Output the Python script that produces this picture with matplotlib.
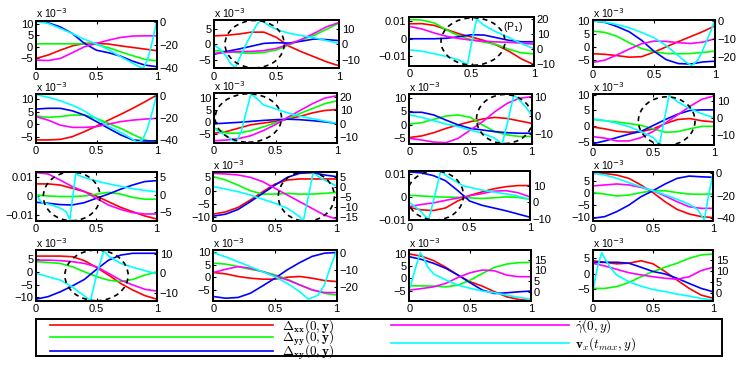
import matplotlib
matplotlib.use("Agg")
import matplotlib.pyplot as plt
from matplotlib.patches import Ellipse

plt.rcParams['font.family'] = ['Liberation Sans', 'DejaVu Sans']
plt.rcParams['mathtext.fontset'] = 'cm'

W, H = 747, 367

# common abscissa (y / h)
X = [0.0, 0.1, 0.2, 0.3, 0.4, 0.5, 0.6, 0.7, 0.8, 0.9, 1.0]
XTICKS = [0, 0.5, 1]
XTICKLABELS = ['0', '0.5', '1']

# ---- values (left axis in units of 1e-3; right axis as read) ----
red_11 = [-5.1, -3.6, -1.5, 0.4, 1.5, 1.5, 1.2, 0.4, -0.3, -1.0, -1.7]
grn_11 = [1.3, 1.3, 1.3, 1.3, 1.3, 1.0, -0.4, -2.2, -3.9, -5.5, -6.1]
blu_11 = [11.4, 10.5, 8.7, 5.8, 1.5, -1.5, -2.6, -4.1, -6.3, -8.0, -8.7]
mag_11 = [-5.8, -6.0, -5.1, -2.6, 0.0, 1.5, 2.9, 4.1, 4.7, 4.8, 4.8]
cyx_11 = [0, 0.1, 0.2, 0.3, 0.4, 0.5, 0.6, 0.7, 0.8, 0.85, 0.885, 0.92, 0.95, 0.975, 1.0]
cyn_11 = [0.6, -1.2, -5.5, -10.0, -15.0, -19.0, -24.0, -30.0, -35.7, -38.5, -40.3, -33.0, -22.0, -10.0, 1.0]

red_12 = [2.7, 2.9, 3.3, 3.9, 3.9, 2.2, -0.6, -2.4, -4.0, -5.6, -6.9]
grn_12 = [-2.0, -2.3, -2.7, -2.9, -2.6, -1.8, -0.2, 1.4, 2.9, 4.8, 6.8]
blu_12 = [-3.2, -2.3, -1.5, -0.6, 0.3, 0.5, 0.4, 1.0, 1.7, 1.5, 1.2]
mag_12 = [-2.9, -2.6, -2.3, -2.3, -2.0, -1.3, 0.0, 1.6, 3.5, 5.6, 7.0]
cyx_12 = [0, 0.05, 0.1, 0.13, 0.17, 0.21, 0.26, 0.31, 0.35, 0.38, 0.45, 0.5, 0.6, 0.7, 0.8, 0.9, 1.0]
cyn_12 = [-0.4, -3.2, -7.8, -12.0, -14.8, -7.8, 0.6, 8.0, 13.3, 15.2, 11.2, 9.5, 7.0, 5.5, 4.2, 2.3, 0.6]

red_13 = [8.5, 8.6, 7.6, 5.2, 2.8, 1.0, -1.0, -3.6, -7.1, -11.5, -14.7]
grn_13 = [10.9, 10.6, 9.0, 5.0, 1.6, -0.6, -1.9, -3.3, -6.0, -8.0, -8.6]
blu_13 = [0.0, 0.0, 0.0, 0.3, 1.2, 2.3, 2.1, 0.6, -0.9, -1.7, -1.7]
mag_13 = [7.0, 5.6, 3.3, 1.4, 0.1, -0.8, -1.4, -1.8, -2.0, -2.5, -3.1]
cyx_13 = [0, 0.1, 0.2, 0.3, 0.4, 0.466, 0.5, 0.54, 0.6, 0.7, 0.8, 0.9, 1.0]
cyn_13 = [-0.6, -1.5, -3.2, -5.1, -7.4, -10.5, 4.5, 20.0, 15.8, 11.3, 7.6, 3.6, 0.2]

red_14 = [-2.6, -2.8, -3.3, -3.9, -3.7, -2.0, 0.0, 2.0, 3.9, 5.8, 8.0]
grn_14 = [6.0, 5.5, 4.0, 1.5, -0.6, -1.8, -2.5, -2.6, -2.5, -2.1, -1.6]
blu_14 = [9.9, 9.3, 7.7, 5.7, 2.5, -1.6, -4.8, -6.3, -6.5, -5.7, -5.4]
mag_14 = [-5.9, -5.0, -3.0, -0.8, 1.2, 2.2, 2.1, 1.6, 1.3, 1.8, 3.1]
cyx_14 = [0, 0.1, 0.2, 0.3, 0.4, 0.5, 0.6, 0.7, 0.76, 0.81, 0.86, 0.9, 0.95, 1.0]
cyn_14 = [0.0, -0.7, -2.0, -3.8, -6.3, -9.2, -13.5, -19.0, -22.5, -24.5, -21.5, -16.0, -8.0, 0.5]

red_21 = [-6.2, -6.2, -6.0, -4.9, -2.9, -0.7, 1.7, 4.0, 6.4, 9.0, 11.7]
grn_21 = [3.3, 2.8, 3.1, 3.7, 3.7, 2.4, 0.4, -1.6, -4.0, -6.2, -7.2]
blu_21 = [6.1, 6.4, 6.4, 5.4, 3.7, 1.1, -1.6, -4.2, -6.2, -6.6, -6.6]
mag_21 = [3.1, 1.7, -0.3, -1.2, -1.2, -0.9, 0.1, 1.1, 1.7, 2.1, 2.4]
cyx_21 = [0, 0.1, 0.2, 0.3, 0.4, 0.5, 0.6, 0.7, 0.8, 0.84, 0.88, 0.92, 0.96, 1.0]
cyn_21 = [1.0, -1.5, -4.6, -8.6, -13.8, -20.9, -27.7, -33.2, -39.4, -42.5, -40.0, -30.0, -15.0, 1.5]

red_22 = [-4.6, -3.9, -2.5, -1.1, -0.4, 0.3, 1.3, 2.4, 3.8, 4.8, 5.2]
grn_22 = [-2.4, -4.5, -4.6, -3.5, -2.0, -0.3, 1.4, 3.6, 5.6, 7.6, 8.8]
blu_22 = [-0.7, -0.4, -0.1, 0.3, 0.7, 1.0, 1.2, 1.0, 0.6, 0.1, -0.5]
mag_22 = [-7.7, -7.4, -6.8, -5.6, -3.5, -1.0, 2.0, 4.8, 7.6, 9.9, 10.9]
cyx_22 = [0, 0.05, 0.1, 0.15, 0.18, 0.22, 0.26, 0.3, 0.35, 0.4, 0.5, 0.6, 0.7, 0.8, 0.9, 1.0]
cyn_22 = [-3.5, -6.3, -8.8, -12.0, -13.8, -6.0, 8.0, 22.0, 18.5, 14.0, 11.0, 8.0, 5.6, 3.8, 2.0, 0.3]

red_23 = [-4.8, -4.2, -3.0, -1.4, -0.1, 1.1, 2.1, 2.7, 2.3, 1.4, 0.5]
grn_23 = [0.2, 0.7, 2.0, 3.2, 3.6, 2.7, -0.1, -2.6, -3.8, -4.4, -4.4]
blu_23 = [4.6, 4.6, 3.6, 1.7, -0.1, -1.4, -2.0, -2.6, -3.0, -3.2, -3.2]
mag_23 = [-5.1, -5.7, -6.5, -6.7, -5.1, -2.0, 1.1, 4.8, 7.9, 9.8, 10.4]
cyx_23 = [0, 0.1, 0.2, 0.3, 0.4, 0.5, 0.6, 0.7, 0.76, 0.81, 0.855, 0.9, 0.95, 1.0]
cyn_23 = [0.4, -0.9, -2.7, -4.5, -5.9, -7.7, -9.5, -12.1, -15.2, -2.0, 11.0, 8.4, 4.8, 0.4]

red_24 = [-0.3, -0.9, -1.7, -2.0, -1.8, -0.9, 0.8, 2.1, 2.4, 1.7, 1.3]
grn_24 = [2.1, 1.7, 1.3, 0.8, 0.2, -0.9, -2.0, -1.8, -0.9, -0.1, -0.1]
blu_24 = [-5.7, -4.8, -3.7, -2.6, -1.7, 0.2, 2.1, 3.8, 5.0, 5.2, 5.2]
mag_24 = [-3.4, -3.9, -4.8, -4.8, -3.7, -1.7, 1.0, 3.6, 6.3, 8.6, 9.7]
cyx_24 = [0, 0.1, 0.2, 0.3, 0.4, 0.5, 0.55, 0.59, 0.63, 0.7, 0.8, 0.9, 1.0]
cyn_24 = [-0.4, -1.4, -3.0, -5.0, -8.0, -11.5, -15.4, -1.0, 13.6, 9.6, 5.6, 2.6, 0.2]

red_31 = [6.3, 6.3, 5.7, 4.0, 2.3, 0.0, -3.0, -5.9, -8.2, -10.4, -12.0]
grn_31 = [0.5, 0.0, -0.3, -0.3, 0.0, 0.9, 1.9, 1.0, -0.7, -1.7, -1.7]
blu_31 = [-3.3, -3.8, -4.5, -4.7, -3.5, -1.2, 1.0, 3.5, 5.7, 7.5, 8.0]
mag_31 = [12.2, 11.5, 8.3, 4.9, 2.3, -1.2, -4.7, -7.0, -8.7, -9.4, -9.4]
cyx_31 = [0, 0.03, 0.05, 0.1, 0.15, 0.2, 0.25, 0.28, 0.33, 0.35, 0.4, 0.5, 0.6, 0.7, 0.8, 0.9, 1.0]
cyn_31 = [0.2, -1.6, -2.3, -2.7, -3.2, -3.9, -4.9, -7.2, 6.3, 5.6, 4.9, 3.9, 3.1, 2.4, 1.7, 1.2, 0.8]

red_32 = [-8.75, -7.9, -6.25, -3.5, -0.4, 2.5, 4.0, 4.4, 4.4, 4.4, 4.4]
grn_32 = [5.25, 4.0, 2.1, 0.0, -1.25, -1.25, -1.0, -1.25, -1.25, -1.0, -0.6]
blu_32 = [-9.5, -8.75, -7.0, -4.1, -1.0, 2.1, 5.0, 6.5, 6.75, 5.9, 5.25]
mag_32 = [6.5, 6.25, 5.9, 5.0, 3.4, 0.9, -1.6, -4.1, -6.6, -9.1, -10.6]
cyx_32 = [0, 0.1, 0.2, 0.3, 0.4, 0.5, 0.6, 0.7, 0.73, 0.77, 0.81, 0.85, 0.9, 1.0]
cyn_32 = [0.0, -1.2, -2.5, -4.2, -6.3, -8.3, -10.8, -15.0, -17.0, -5.0, 7.3, 5.0, 3.3, 0.3]

red_33 = [-4.6, -5.6, -5.9, -4.8, -1.8, 0.6, 2.1, 3.5, 4.4, 4.9, 4.9]
grn_33 = [0.7, 0.4, 0.1, -0.1, -0.2, -0.4, -0.7, -0.4, 0.0, -0.2, -1.1]
blu_33 = [10.8, 10.4, 9.2, 7.0, 2.8, -1.8, -3.6, -4.8, -6.0, -7.4, -8.8]
mag_33 = [-4.2, -3.3, -2.6, -1.5, -0.5, 0.5, 1.4, 2.5, 2.7, 1.8, 0.0]
cyx_33 = [0, 0.03, 0.09, 0.16, 0.21, 0.26, 0.31, 0.45, 0.59, 0.73, 0.87, 1.0]
cyn_33 = [0.0, -1.6, -5.1, -10.8, 4.0, 19.4, 16.3, 10.2, 7.8, 6.1, 4.5, 2.0]

red_34 = [8.3, 8.3, 7.6, 6.25, 3.5, 0.3, -3.5, -6.7, -8.6, -9.7, -10.1]
grn_34 = [0.3, -0.3, -1.1, -0.7, 0.3, 1.1, 1.1, 0.3, -0.3, -0.4, -0.3]
blu_34 = [-10.4, -9.7, -7.6, -4.9, -1.4, 1.1, 3.9, 6.25, 7.2, 6.9, 6.7]
mag_34 = [3.1, 3.5, 3.9, 3.5, 2.5, 1.1, -1.1, -3.5, -5.6, -6.25, -6.25]
cyx_34 = [0, 0.1, 0.2, 0.3, 0.4, 0.5, 0.6, 0.7, 0.8, 0.87, 0.925, 0.96, 1.0]
cyn_34 = [0.6, -1.5, -4.4, -8.3, -11.9, -15.4, -19.0, -23.0, -27.5, -32.0, -41.5, -20.0, 1.2]

red_41 = [6.3, 6.3, 6.3, 6.05, 4.5, 1.8, -1.2, -4.5, -7.1, -9.3, -10.7]
grn_41 = [4.1, 3.8, 3.4, 2.1, 0.1, -1.8, -3.2, -3.8, -2.9, -1.2, 0.1]
blu_41 = [-10.7, -9.7, -7.8, -5.5, -2.9, 1.05, 4.7, 6.7, 7.4, 7.4, 7.4]
mag_41 = [4.7, 4.7, 4.5, 4.1, 3.4, 2.1, -0.5, -3.2, -5.1, -6.8, -7.5]
cyx_41 = [0, 0.1, 0.2, 0.3, 0.35, 0.4, 0.45, 0.5, 0.56, 0.6, 0.7, 0.8, 0.9, 1.0]
cyn_41 = [0.0, -1.7, -3.4, -6.8, -9.3, -11.5, -13.9, -1.0, 11.5, 8.8, 5.1, 3.1, 1.4, -0.3]

red_42 = [1.9, 1.35, 0.3, -0.4, -0.8, -0.8, 0.0, 0.3, -0.4, -1.35, -1.75]
grn_42 = [5.7, 5.3, 4.3, 3.2, 2.3, 0.95, -0.8, -3.1, -5.1, -6.5, -7.2]
blu_42 = [-7.8, -8.5, -8.2, -6.5, -3.5, -0.4, 3.0, 5.9, 8.4, 9.7, 10.0]
mag_42 = [1.9, 3.2, 4.3, 3.6, 2.3, 0.5, -1.1, -3.1, -5.1, -6.2, -6.2]
cyx_42 = [0, 0.1, 0.2, 0.3, 0.4, 0.5, 0.6, 0.7, 0.77, 0.85, 0.9, 0.95, 1.0]
cyn_42 = [0.4, -2.0, -4.9, -7.8, -10.8, -13.7, -17.6, -22.5, -26.9, -24.5, -18.6, -7.8, 1.6]

red_43 = [9.9, 9.0, 7.2, 4.5, 1.35, -1.35, -3.1, -5.4, -7.4, -8.5, -9.0]
grn_43 = [-3.0, -3.0, -3.1, -3.4, -2.7, -0.7, 2.0, 4.5, 5.8, 6.4, 6.5]
blu_43 = [8.8, 7.7, 6.1, 4.1, 1.35, -1.75, -4.7, -6.1, -5.8, -5.4, -5.1]
mag_43 = [-4.7, -4.1, -3.4, -2.0, 0.4, 2.3, 3.4, 3.1, 1.35, 0.7, 0.7]
cyx_43 = [0, 0.05, 0.09, 0.12, 0.15, 0.2, 0.3, 0.4, 0.5, 0.6, 0.7, 0.8, 0.9, 1.0]
cyn_43 = [0.8, 10.9, 18.3, 15.6, 11.7, 8.3, 5.5, 3.1, 1.6, 0.3, -0.5, -1.6, -2.7, -3.4]

red_44 = [4.2, 3.7, 3.2, 3.4, 4.2, 3.2, 0.7, -2.1, -4.8, -7.0, -8.0]
grn_44 = [-4.8, -4.8, -4.2, -2.9, -1.0, 0.7, 2.1, 3.4, 5.0, 6.1, 6.4]
blu_44 = [3.7, 3.7, 3.7, 3.4, 2.1, 0.7, -0.1, -1.5, -3.2, -4.8, -5.9]
mag_44 = [3.4, 2.5, 1.4, 0.3, -0.4, -1.0, -1.5, -1.8, -1.0, 1.0, 2.1]
cyx_44 = [0, 0.04, 0.075, 0.1, 0.15, 0.2, 0.3, 0.4, 0.5, 0.6, 0.7, 0.8, 0.9, 1.0]
cyn_44 = [0.8, 12.1, 18.5, 15.9, 11.4, 8.3, 5.3, 3.3, 1.8, 0.8, -0.3, -1.2, -2.3, -3.0]

LEGEND_LABELS = [r'$\mathbf{\Delta_{xx}(0,y)}$', r'$\mathbf{\Delta_{yy}(0,y)}$',
                 r'$\mathbf{\Delta_{xy}(0,y)}$', r'$\dot{\gamma}(0,y)$',
                 r'$\mathbf{v}_x(t_{max},y)$']

SERIES = {
    '11': (red_11, grn_11, blu_11, mag_11, cyx_11, cyn_11),
    '12': (red_12, grn_12, blu_12, mag_12, cyx_12, cyn_12),
    '13': (red_13, grn_13, blu_13, mag_13, cyx_13, cyn_13),
    '14': (red_14, grn_14, blu_14, mag_14, cyx_14, cyn_14),
    '21': (red_21, grn_21, blu_21, mag_21, cyx_21, cyn_21),
    '22': (red_22, grn_22, blu_22, mag_22, cyx_22, cyn_22),
    '23': (red_23, grn_23, blu_23, mag_23, cyx_23, cyn_23),
    '24': (red_24, grn_24, blu_24, mag_24, cyx_24, cyn_24),
    '31': (red_31, grn_31, blu_31, mag_31, cyx_31, cyn_31),
    '32': (red_32, grn_32, blu_32, mag_32, cyx_32, cyn_32),
    '33': (red_33, grn_33, blu_33, mag_33, cyx_33, cyn_33),
    '34': (red_34, grn_34, blu_34, mag_34, cyx_34, cyn_34),
    '41': (red_41, grn_41, blu_41, mag_41, cyx_41, cyn_41),
    '42': (red_42, grn_42, blu_42, mag_42, cyx_42, cyn_42),
    '43': (red_43, grn_43, blu_43, mag_43, cyx_43, cyn_43),
    '44': (red_44, grn_44, blu_44, mag_44, cyx_44, cyn_44),
}

# ---- layout (pixel boxes: left, top, right, bottom) ----
RECT = {
    '11': (36, 20.7, 157, 69), '12': (214, 20, 339, 68.3),
    '13': (409.3, 17.3, 534, 65.7), '14': (592.7, 20, 715, 66.7),
    '21': (36, 94, 157, 142.7), '22': (214, 93.3, 337, 142.7),
    '23': (409.3, 94, 531.5, 144), '24': (592.7, 94, 714, 145),
    '31': (36, 172, 156.7, 220.7), '32': (213.3, 172, 336.7, 220.7),
    '33': (409.3, 171, 530, 220), '34': (592.7, 172, 713.3, 220.7),
    '41': (36, 250, 157, 300.7), '42': (213.3, 250, 336.7, 300.7),
    '43': (409.3, 250, 531, 300.7), '44': (592.7, 250, 713.3, 300.7),
}
YLIM_L = {
    '11': (-9.7, 11.4), '12': (-7.7, 7.8), '13': (-15.3, 12.2), '14': (-7.5, 10.2),
    '21': (-7.3, 12.1), '22': (-8.5, 11.9), '23': (-7.2, 11.4), '24': (-6.1, 10.3),
    '31': (-12.9, 12.5), '32': (-11.2, 7.0), '33': (-9.5, 11.2), '34': (-11.4, 8.9),
    '41': (-11.3, 8.7), '42': (-9.5, 11.0), '43': (-9.0, 11.5), '44': (-8.8, 7.7),
}
YLIM_R = {
    '11': (-40.6, 1.1), '12': (-15.2, 15.4), '13': (-11.2, 21.2), '14': (-25.1, 0.5),
    '21': (-42.5, 1.5), '22': (-14.0, 22.5), '23': (-15.2, 11.6), '24': (-15.8, 14.2),
    '31': (-7.5, 6.5), '32': (-17.0, 7.3), '33': (-10.8, 19.4), '34': (-42.0, 1.2),
    '41': (-13.9, 11.9), '42': (-27.8, 2.0), '43': (-4.2, 19.5), '44': (-3.3, 19.7),
}
TICK_L = {
    '11': [-5, 0, 5, 10], '12': [-5, 0, 5], '13': [-10, 0, 10], '14': [-5, 0, 5, 10],
    '21': [-5, 0, 5, 10], '22': [-5, 0, 5, 10], '23': [-5, 0, 5, 10], '24': [-5, 0, 5, 10],
    '31': [-10, 0, 10], '32': [-10, -5, 0, 5], '33': [-10, 0, 10], '34': [-10, -5, 0, 5],
    '41': [-10, -5, 0, 5], '42': [-5, 0, 5, 10], '43': [-5, 0, 5, 10], '44': [-5, 0, 5],
}
TICK_R = {
    '11': [-40, -20, 0], '12': [-10, 0, 10], '13': [-10, 0, 10, 20], '14': [-20, -10, 0],
    '21': [-40, -20, 0], '22': [-10, 0, 10, 20], '23': [-10, 0, 10], '24': [-10, 0, 10],
    '31': [-5, 0, 5], '32': [-15, -10, -5, 0, 5], '33': [-10, 0, 10], '34': [-40, -20, 0],
    '41': [-10, 0, 10], '42': [-20, -10, 0], '43': [0, 5, 10, 15], '44': [0, 5, 10, 15],
}
# panels whose left axis is labelled directly (0.01) instead of "x 10^-3"
PLAIN = {'13', '31', '33'}
# dashed circles (axes fraction: cx, cy, w, h)
CIRCLE = {
    '12': (0.325, 0.5, 0.474, 0.98), '13': (0.511, 0.5, 0.513, 0.98),
    '22': (0.279, 0.5, 0.54, 0.98), '23': (0.78, 0.5, 0.46, 0.98),
    '24': (0.61, 0.47, 0.467, 0.95), '31': (0.296, 0.5, 0.47, 1.0),
    '32': (0.754, 0.5, 0.454, 1.02), '33': (0.214, 0.5, 0.47, 1.0),
    '41': (0.50, 0.5, 0.523, 1.0),
}

COLORS = [(1, 0, 0), (0, 1, 0), (0, 0, 1), (1, 0, 1), (0, 1, 1)]
LW = 1.2
FS = 8


def fmt(v):
    return ('%g' % v).replace('-', '\u2212')


fig = plt.figure(figsize=(W / 100, H / 100), dpi=100)
handles = []
for key in ['11', '12', '13', '14', '21', '22', '23', '24',
            '31', '32', '33', '34', '41', '42', '43', '44']:
    l, t, r, b = RECT[key]
    ax = fig.add_axes([l / W, 1 - b / H, (r - l) / W, (b - t) / H])
    rd, gn, bl, mg, cx, cy = SERIES[key]
    hs = []
    for vals, col in zip((rd, gn, bl, mg), COLORS[:4]):
        h, = ax.plot(X, vals, color=col, lw=LW)
        hs.append(h)
    ax.set_xlim(0, 1)
    ax.set_ylim(*YLIM_L[key])
    ax.set_xticks(XTICKS)
    ax.set_xticklabels(XTICKLABELS)
    ax.set_yticks(TICK_L[key])
    if key in PLAIN:
        ax.set_yticklabels([fmt(v / 1000.0) for v in TICK_L[key]])
    else:
        ax.set_yticklabels([fmt(v) for v in TICK_L[key]])
        ax.annotate(r'x 10$^{-3}$', xy=(0, 1), xycoords='axes fraction',
                    xytext=(0, 0.3), textcoords='offset points',
                    ha='left', va='bottom', fontsize=7.5,
                    math_fontfamily='dejavusans')
    ax.tick_params(axis='both', direction='in', length=2.5, width=0.8,
                   labelsize=FS, pad=2, top=True, right=False)
    ax.tick_params(axis='x', pad=2.5)
    ax2 = ax.twinx()
    h5, = ax2.plot(cx, cy, color=COLORS[4], lw=LW)
    hs.append(h5)
    ax2.set_ylim(*YLIM_R[key])
    ax2.set_yticks(TICK_R[key])
    ax2.set_yticklabels([fmt(v) for v in TICK_R[key]])
    ax2.tick_params(axis='y', direction='in', length=2.5, width=0.8,
                    labelsize=FS, pad=2)
    for a in (ax, ax2):
        for s in a.spines.values():
            s.set_linewidth(1.4)
    if key in CIRCLE:
        ccx, ccy, cw, ch = CIRCLE[key]
        e = Ellipse((ccx, ccy), cw, ch, transform=ax.transAxes, fill=False,
                    edgecolor='k', lw=1.2, linestyle=(0, (3, 2.5)), zorder=10)
        ax2.add_patch(e)
    if key == '13':
        ax2.text(0.83, 0.8, r'(P$_1$)', transform=ax.transAxes, fontsize=7.5,
                 ha='center', va='center', math_fontfamily='dejavusans')
    handles = hs

# legend box
lax = fig.add_axes([36 / W, 1 - 356 / H, 686 / W, 37 / H])
lax.set_xticks([])
lax.set_yticks([])
for s in lax.spines.values():
    s.set_linewidth(1.4)
LFS = 9.5
leg1 = lax.legend(handles=handles[:3], labels=LEGEND_LABELS[:3], loc='upper left',
                  bbox_to_anchor=(0.0205, 1.06), frameon=False, fontsize=LFS,
                  handlelength=16.9, handletextpad=0.7, labelspacing=-0.42,
                  borderpad=0.0, borderaxespad=0.0)
lax.add_artist(leg1)
leg2 = lax.legend(handles=handles[3:], labels=LEGEND_LABELS[3:], loc='upper left',
                  bbox_to_anchor=(0.518, 1.04), frameon=False, fontsize=LFS,
                  handlelength=13.5, handletextpad=0.45, labelspacing=0.0,
                  borderpad=0.0, borderaxespad=0.0)

fig.savefig('out.png', dpi=100)
